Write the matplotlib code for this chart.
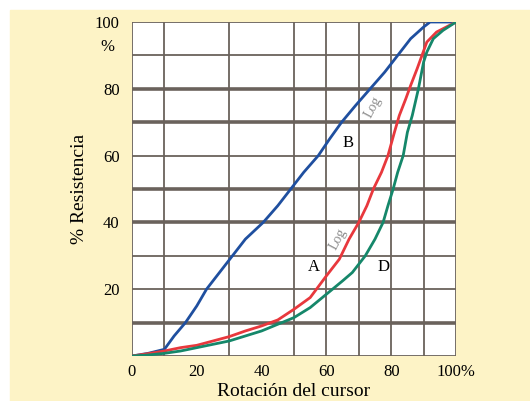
import matplotlib.pyplot as plt
from matplotlib.patches import Rectangle

plt.rcParams['font.family'] = ['Liberation Serif', 'DejaVu Serif']

# curve B (linear)
bx = [0, 5, 10, 13, 16.5, 20, 23, 27, 31, 35, 40.5, 45, 49, 53, 57.5, 61, 64.7, 69, 73.5, 78, 82, 86, 90, 92, 100]
by = [0, 0.8, 2, 6, 10, 15, 20, 25, 30, 35, 40, 45, 50, 55, 60, 65, 70, 75, 80, 85, 90, 95, 98.5, 100, 100]
# curve A (log)
ax_ = [0, 5, 10, 15, 20, 25, 30, 35, 40, 45, 50, 55, 60, 64, 67, 70, 72.5, 74.5, 77, 79, 81, 82.5, 84.5, 86, 88, 89.5, 91, 94, 97, 100]
ay_ = [0, 0.7, 1.5, 2.5, 3.2, 4.5, 5.8, 7.5, 9, 10.8, 14, 17.5, 24, 29, 35, 40, 45, 50, 55, 60, 67, 72, 77, 81, 86, 90, 94, 97, 98.5, 100]
# curve D
dx = [0, 5, 10, 15, 20, 25, 30, 35, 40, 45, 50, 55, 60, 65, 68, 72, 75, 77.5, 79, 80.6, 82, 83.7, 85, 86.5, 88.4, 90, 91, 93, 96, 100]
dy = [0, 0.3, 0.8, 1.5, 2.5, 3.5, 4.5, 6, 7.5, 9.5, 11.5, 14.5, 18.5, 22.5, 25, 30, 35, 40, 45, 50, 55, 60, 67, 72, 80, 88, 91, 95, 97.5, 100]

xgrid = [0, 10, 30, 50, 60, 70, 80, 90, 100]
ygrid = [0, 10, 20, 30, 40, 50, 60, 70, 80, 90, 100]
ythick = [10, 40, 50, 70, 80]
xticks = [0, 20, 40, 60, 80, 100]
xlabels = ['0', '20', '40', '60', '80', '100%']
yticks = [20, 40, 60, 80, 100]
ylabels = ['20', '40', '60', '80', '100']

fig = plt.figure(figsize=(5.30, 4.01), dpi=100)
fig.patches.append(Rectangle((10 / 530, 0), 1, 1 - 10 / 401, transform=fig.transFigure,
                             color='#fdf3c6', zorder=-1))
ax = fig.add_axes([132 / 530, 1 - 356 / 401, 324 / 530, 334 / 401])
ax.set_facecolor('white')

for x in xgrid:
    ax.axvline(x, color='#6a625c', lw=1.3, zorder=1)
for y in ygrid:
    ax.axhline(y, color='#6a625c', lw=2.6 if y in ythick else 1.3, zorder=1)

ax.plot(bx, by, color='#1f4f9f', lw=2, zorder=3)
ax.plot(ax_, ay_, color='#e8383d', lw=2, zorder=3)
ax.plot(dx, dy, color='#15876a', lw=2, zorder=3)

ax.text(66.7, 63.8, 'B', fontsize=12, ha='center', va='center')
ax.text(56, 26.6, 'A', fontsize=12, ha='center', va='center')
ax.text(77.5, 26.6, 'D', fontsize=12, ha='center', va='center')
ax.text(74.5, 74.5, 'Log', fontsize=10, color='#8a8a8a', rotation=62, ha='center', va='center')
ax.text(63.5, 35, 'Log', fontsize=10, color='#8a8a8a', rotation=62, ha='center', va='center')

ax.set_xlim(0, 100)
ax.set_ylim(0, 100)
for s in ax.spines.values():
    s.set_visible(False)
ax.set_xticks(xticks, xlabels, fontsize=12)
ax.set_yticks(yticks, ylabels, fontsize=12)
ax.tick_params(axis='x', length=0, pad=6)
ax.tick_params(axis='y', length=0, pad=9)
ax.text(-7.5, 92.5, '%', fontsize=12, ha='center', va='center', clip_on=False)
ax.set_xlabel('Rotación del cursor', fontsize=14)
ax.xaxis.set_label_coords(0.5, -0.08)
ax.set_ylabel('% Resistencia', fontsize=14)
ax.yaxis.set_label_coords(-0.135, 0.5)

fig.savefig('out.png')
